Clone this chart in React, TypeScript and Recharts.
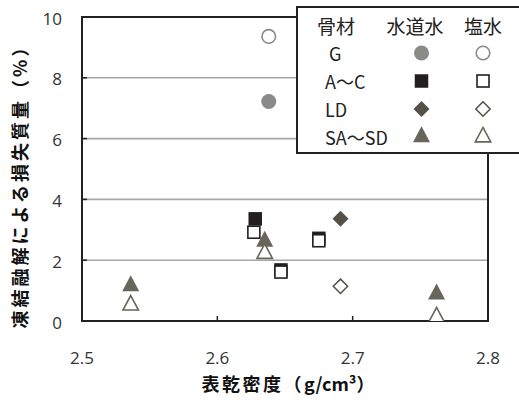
import React from 'react';
import { ScatterChart, Scatter, XAxis, YAxis, CartesianGrid, ReferenceArea, Legend } from 'recharts';

const xTicks = [2.5, 2.6, 2.7, 2.8];
const yTicks = [0, 2, 4, 6, 8, 10];

const gTap = [{ x: 2.638, y: 7.22 }];
const gSalt = [{ x: 2.638, y: 9.36 }];
const acTap = [
  { x: 2.628, y: 3.36 },
  { x: 2.647, y: 1.68 },
  { x: 2.675, y: 2.72 },
];
const acSalt = [
  { x: 2.627, y: 2.92 },
  { x: 2.647, y: 1.61 },
  { x: 2.675, y: 2.64 },
];
const ldTap = [{ x: 2.691, y: 3.36 }];
const ldSalt = [{ x: 2.691, y: 1.14 }];
const saTap = [
  { x: 2.536, y: 1.15 },
  { x: 2.635, y: 2.62 },
  { x: 2.762, y: 0.88 },
];
const saSalt = [
  { x: 2.536, y: 0.52 },
  { x: 2.635, y: 2.22 },
  { x: 2.762, y: 0.13 },
];

const legendHeader = ['骨材', '水道水', '塩水'];
const legendRows = ['G', 'A〜C', 'LD', 'SA〜SD'];
const xTitleMain = '表乾密度（';
const xTitleUnit = 'g/cm³';
const xTitleEnd = '）';
const yTitle = '凍結融解による損失質量（%）';

const C_GRAY = '#8a8a87';
const C_BLACK = '#231f20';
const C_DIAMOND = '#564f45';
const C_TRI = '#66665a';

const NUM_FONT = '"Open Sans", sans-serif';
const CJK_FONT = '"Noto Sans CJK JP", sans-serif';

type Mk = { cx: number; cy: number };

const mkCircle = (filled: boolean) => ({ cx, cy }: Mk) => (
  <circle cx={cx} cy={cy} r={filled ? 7.5 : 6.8} fill={filled ? C_GRAY : '#fff'} stroke={C_GRAY} strokeWidth={filled ? 0 : 1.6} />
);
const mkSquare = (filled: boolean) => ({ cx, cy }: Mk) => {
  const s = filled ? 13.5 : 12;
  return <rect x={cx - s / 2} y={cy - s / 2} width={s} height={s} fill={filled ? C_BLACK : '#fff'} stroke={C_BLACK} strokeWidth={filled ? 0 : 1.6} />;
};
const mkDiamond = (filled: boolean) => ({ cx, cy }: Mk) => {
  const h = filled ? 8 : 7.2;
  return (
    <polygon
      points={`${cx},${cy - h} ${cx + h},${cy} ${cx},${cy + h} ${cx - h},${cy}`}
      fill={filled ? C_DIAMOND : '#fff'}
      stroke={C_DIAMOND}
      strokeWidth={filled ? 0 : 1.5}
    />
  );
};
const mkTriangle = (filled: boolean) => ({ cx, cy }: Mk) => {
  const w = filled ? 17 : 15.5;
  const h = filled ? 16 : 14.5;
  return (
    <polygon
      points={`${cx},${cy - (2 * h) / 3} ${cx + w / 2},${cy + h / 3} ${cx - w / 2},${cy + h / 3}`}
      fill={filled ? C_TRI : '#fff'}
      stroke={C_TRI}
      strokeWidth={filled ? 0 : 1.6}
      strokeLinejoin="miter"
    />
  );
};

const shapes = [
  [mkCircle(true), mkCircle(false)],
  [mkSquare(true), mkSquare(false)],
  [mkDiamond(true), mkDiamond(false)],
  [mkTriangle(true), mkTriangle(false)],
];

const XTick = (p: any) => {
  const { x, y, payload } = p;
  return (
    <g>
      <line x1={x} x2={x} y1={y} y2={y - 5} stroke="#222" strokeWidth={1.5} />
      <text x={x} y={y + 36} textAnchor="middle" dominantBaseline="central" fontFamily={NUM_FONT} fontSize={17} fill="#333">
        {Number(payload.value).toFixed(1)}
      </text>
    </g>
  );
};

const YTick = (p: any) => {
  const { x, y, payload } = p;
  return (
    <g>
      <line x1={x} x2={x + 5} y1={y} y2={y} stroke="#222" strokeWidth={1.5} />
      <text x={x - 20} y={y + 1} textAnchor="end" dominantBaseline="central" fontFamily={NUM_FONT} fontSize={17} fill="#333">
        {payload.value}
      </text>
    </g>
  );
};

const XTitle = (p: any) => {
  const vb = p.viewBox;
  return (
    <text x={vb.x + vb.width / 2 + 3} y={vb.y + 62} textAnchor="middle" dominantBaseline="central" fontFamily={CJK_FONT} fontWeight="bold" fontSize={18} fill="#111">
      <tspan letterSpacing={2.5}>{xTitleMain}</tspan>
      <tspan>{xTitleUnit}</tspan>
      <tspan>{xTitleEnd}</tspan>
    </text>
  );
};

const YTitle = (p: any) => {
  const vb = p.viewBox;
  const cx = vb.x + 19;
  const cy = vb.y + vb.height / 2 + 13;
  return (
    <text x={cx} y={cy} transform={`rotate(-90, ${cx}, ${cy})`} textAnchor="middle" dominantBaseline="central" fontFamily={CJK_FONT} fontWeight="bold" fontSize={18} letterSpacing={3} fill="#111">
      {yTitle}
    </text>
  );
};

const LegendBox = () => {
  const rowY = [53, 81, 109, 137];
  return (
    <svg width={519} height={160} style={{ display: 'block' }}>
      <rect x={297} y={7} width={260} height={146} fill="#fff" stroke="#222" strokeWidth={2} />
      <text x={317} y={25} dominantBaseline="central" fontFamily={CJK_FONT} fontSize={19} fill="#222">{legendHeader[0]}</text>
      <text x={415} y={25} textAnchor="middle" dominantBaseline="central" fontFamily={CJK_FONT} fontSize={19} fill="#222">{legendHeader[1]}</text>
      <text x={483} y={25} textAnchor="middle" dominantBaseline="central" fontFamily={CJK_FONT} fontSize={19} fill="#222">{legendHeader[2]}</text>
      {legendRows.map((r, i) => {
        const [Tap, Salt] = shapes[i];
        return (
          <g key={r}>
            <text x={i === 0 ? 329 : 325} y={rowY[i]} dominantBaseline="central" fontFamily={CJK_FONT} fontSize={18} fill="#222">{r}</text>
            {Tap({ cx: 421.5, cy: rowY[i] })}
            {Salt({ cx: 483, cy: rowY[i] })}
          </g>
        );
      })}
    </svg>
  );
};

export default function App() {
  const series = [
    [gTap, gSalt],
    [acTap, acSalt],
    [ldTap, ldSalt],
    [saTap, saSalt],
  ];
  return (
    <div style={{ position: 'absolute', left: 0, top: 0, width: 519, height: 405, background: '#fff' }}>
      <ScatterChart width={519} height={405} margin={{ top: 17, right: 31, bottom: 0, left: 0 }}>
        <CartesianGrid vertical={false} stroke="#a6a6a6" strokeWidth={1.6} />
        <XAxis
          type="number"
          dataKey="x"
          domain={[2.5, 2.8]}
          ticks={xTicks}
          allowDataOverflow
          height={84}
          tickSize={0}
          tickMargin={0}
          axisLine={false}
          tickLine={false}
          tick={<XTick />}
          interval={0}
          label={XTitle}
        />
        <YAxis
          type="number"
          dataKey="y"
          domain={[0, 10]}
          ticks={yTicks}
          allowDataOverflow
          width={82}
          tickSize={0}
          tickMargin={0}
          axisLine={false}
          tickLine={false}
          tick={<YTick />}
          interval={0}
          label={YTitle}
        />
        <ReferenceArea x1={2.5} x2={2.8} y1={0} y2={10} fill="none" stroke="#222" strokeWidth={2} ifOverflow="visible" />
        {series.map((pair, i) =>
          pair.map((d, j) => (
            <Scatter key={`${i}-${j}`} data={d} shape={shapes[i][j] as any} isAnimationActive={false} legendType="none" />
          ))
        )}
        <Legend
          layout="vertical"
          align="center"
          verticalAlign="middle"
          content={() => <LegendBox />}
          wrapperStyle={{ left: 0, top: 0, width: 519, height: 160, margin: 0 }}
        />
      </ScatterChart>
    </div>
  );
}
